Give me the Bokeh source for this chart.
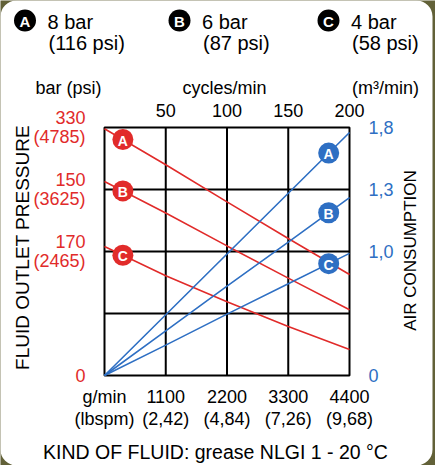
import numpy as np
from bokeh.plotting import figure
from bokeh.models import Range1d, LinearAxis, FixedTicker, Grid, ColumnDataSource, BoxAnnotation
from bokeh.core.properties import value
from bokeh.embed import file_html
from bokeh.resources import INLINE

RED = "#e12b2a"
BLUE = "#2e6fc3"
FONT = "Liberation Sans"

# ---- data (grid units on the y axis: 0..4) ----
cycles = [0, 50, 100, 150, 200]
pressure_A = [3.98, 3.40, 2.80, 2.21, 1.63]
pressure_B = [3.13, 2.62, 2.09, 1.57, 1.06]
pressure_C = [2.08, 1.61, 1.19, 0.79, 0.42]
air_A = [0.0, 0.98, 1.96, 2.94, 3.92]
air_B = [0.0, 0.72, 1.44, 2.15, 2.87]
air_C = [0.0, 0.49, 0.99, 1.48, 1.97]
letters = ["A", "B", "C"]
legend_bar = ["8 bar", "6 bar", "4 bar"]
legend_psi = ["(116 psi)", "(87 psi)", "(58 psi)"]

pressure_ticks = [0, 2, 3, 4]
pressure_labels = ["0", "170\n(2465)", "150\n(3625)", "330\n(4785)"]
air_ticks = [0, 2, 3, 4]
air_labels = ["0", "1,0", "1,3", "1,8"]
cycle_ticks = [50, 100, 150, 200]
grid_rows = [1, 2, 3]
flow_ticks = [0, 1100, 2200, 3300, 4400]
flow_labels = ["g/min\n(lbspm)", "1100\n(2,42)", "2200\n(4,84)", "3300\n(7,26)", "4400\n(9,68)"]
units_row = ["bar (psi)", "cycles/min", "(m³/min)"]
y_title = "FLUID OUTLET PRESSURE"
y2_title = "AIR CONSUMPTION"
footer = "KIND OF FLUID: grease NLGI 1 - 20 °C"

W, H = 435, 465
FL, FR, FT, FB = 104, 349, 127, 375   # pixel box of the chart grid
XMAX, YMAX = 200.0, 4.0


def X(px):
    return (px - FL) * XMAX / (FR - FL)


def Y(py):
    return (FB - py) * YMAX / (FB - FT)


p = figure(width=W, height=H, x_range=Range1d(X(0), X(W)), y_range=Range1d(Y(H), Y(0)),
           output_backend="svg", toolbar_location=None,
           x_axis_location=None, y_axis_location=None,
           min_border=0, min_border_left=0, min_border_right=0,
           min_border_top=0, min_border_bottom=0)
p.center = [r for r in p.center if not isinstance(r, Grid)]
p.outline_line_color = None
p.background_fill_color = "#626138"
p.border_fill_color = "#626138"
flow_scale = 4400 / XMAX
p.extra_x_ranges = {"flow": Range1d(X(0) * flow_scale, X(W) * flow_scale)}

# white card with rounded corners
p.add_layout(BoxAnnotation(left=X(0), right=X(432), top=Y(0), bottom=Y(H),
                           fill_color="white", fill_alpha=1, line_color=None,
                           border_radius=16, level="underlay"))


def style_axis(ax, color, standoff, lh=1.2):
    ax.axis_line_color = None
    ax.major_tick_line_color = None
    ax.minor_tick_line_color = None
    ax.major_label_text_font = FONT
    ax.major_label_text_font_size = "18px"
    ax.major_label_text_color = color
    ax.major_label_standoff = standoff
    ax.major_label_text_line_height = lh


left = LinearAxis(fixed_location=0, ticker=FixedTicker(ticks=pressure_ticks),
                  major_label_overrides=dict(zip(pressure_ticks, pressure_labels)))
style_axis(left, RED, 13, 0.95)
p.add_layout(left, "left")

right = LinearAxis(fixed_location=XMAX, ticker=FixedTicker(ticks=air_ticks),
                   major_label_overrides=dict(zip(air_ticks, air_labels)))
style_axis(right, BLUE, 13)
p.add_layout(right, "right")

top = LinearAxis(fixed_location=YMAX, ticker=FixedTicker(ticks=cycle_ticks))
style_axis(top, "black", 5)
p.add_layout(top, "above")

bottom = LinearAxis(fixed_location=0, x_range_name="flow", ticker=FixedTicker(ticks=flow_ticks),
                    major_label_overrides=dict(zip(flow_ticks, flow_labels)))
style_axis(bottom, "black", 5, 1.1)
p.add_layout(bottom, "below")

# grid and frame
inner_x = cycle_ticks[:-1]
p.segment(x0=inner_x, y0=[0] * len(inner_x), x1=inner_x, y1=[YMAX] * len(inner_x),
          line_color="black", line_width=2)
p.segment(x0=[0] * len(grid_rows), y0=grid_rows, x1=[XMAX] * len(grid_rows), y1=grid_rows,
          line_color="black", line_width=2)
p.quad(left=[0], right=[XMAX], bottom=[0], top=[YMAX], fill_color=None,
       line_color="black", line_width=2)

# curves
for ys in (pressure_A, pressure_B, pressure_C):
    p.line(cycles, ys, line_color=RED, line_width=1.6)
for ys in (air_A, air_B, air_C):
    p.line(cycles, ys, line_color=BLUE, line_width=1.6)

red_x = [15, 15, 15]
red_y = [float(np.interp(15, cycles, s)) for s in (pressure_A, pressure_B, pressure_C)]
blue_x = [183, 183, 183]
blue_y = [float(np.interp(183, cycles, s)) for s in (air_A, air_B, air_C)]
for xs, ys, col in ((red_x, red_y, RED), (blue_x, blue_y, BLUE)):
    src = ColumnDataSource(dict(x=xs, y=ys, t=letters))
    p.scatter("x", "y", source=src, size=21, fill_color=col, line_color=None)
    p.text("x", "y", text="t", source=src, text_align="center", text_baseline="middle",
           text_color="white", text_font=value(FONT), text_font_style="bold",
           text_font_size="14px", y_offset=1)

# legend at top
legend_cx = [24.5, 179, 328]
leg = ColumnDataSource(dict(cx=[X(c) for c in legend_cx], cy=[Y(20)] * 3, t=letters,
                            bx=[X(c + 22.5) for c in legend_cx], by=[Y(21)] * 3, bar=legend_bar,
                            px=[X(c + 23.5) for c in legend_cx], py=[Y(42)] * 3, psi=legend_psi))
p.scatter("cx", "cy", source=leg, size=22, fill_color="black", line_color=None)
p.text("cx", "cy", text="t", source=leg, text_align="center", text_baseline="middle",
       text_color="white", text_font=value(FONT), text_font_style="bold",
       text_font_size="15px", y_offset=1)
p.text("bx", "by", text="bar", source=leg, text_align="left", text_baseline="middle",
       text_color="black", text_font=value(FONT), text_font_size="20px")
p.text("px", "py", text="psi", source=leg, text_align="left", text_baseline="middle",
       text_color="black", text_font=value(FONT), text_font_size="20px")

# unit captions, titles, footer
units = ColumnDataSource(dict(x=[X(68), X(224), X(385)], y=[Y(87)] * 3, t=units_row))
p.text("x", "y", text="t", source=units, text_align="center", text_baseline="middle",
       text_color="black", text_font=value(FONT), text_font_size="18px")
p.text(x=[X(22)], y=[Y(247)], text=[y_title], angle=np.pi / 2, text_align="center",
       text_baseline="middle", text_color="black", text_font=value(FONT), text_font_size="19px")
p.text(x=[X(410)], y=[Y(250)], text=[y2_title], angle=np.pi / 2, text_align="center",
       text_baseline="middle", text_color="black", text_font=value(FONT), text_font_size="17px")
p.text(x=[X(215)], y=[Y(451)], text=[footer], text_align="center",
       text_baseline="middle", text_color="black", text_font=value(FONT), text_font_size="19.5px")

open("out.html", "w").write(file_html(p, INLINE))
